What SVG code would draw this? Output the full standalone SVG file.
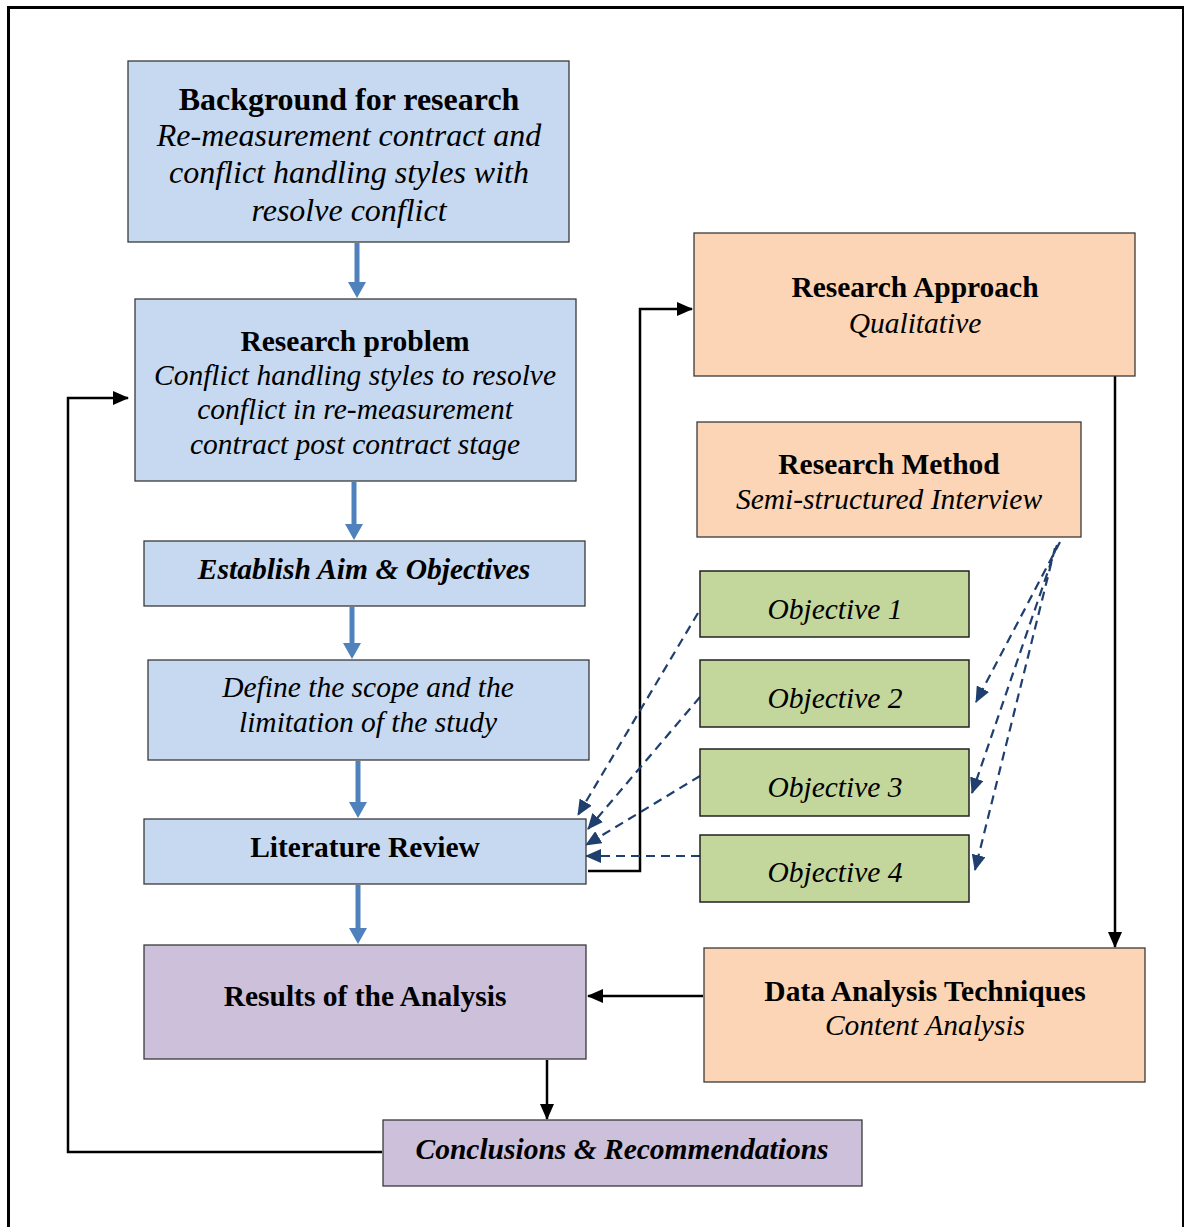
<svg xmlns="http://www.w3.org/2000/svg" width="1184" height="1227" viewBox="0 0 1184 1227">
<style>
text{font-family:"Liberation Serif","Times New Roman",serif;fill:#000;text-anchor:middle;font-size:29.5px}
.b{font-weight:bold}
.i{font-style:italic}
.bi{font-weight:bold;font-style:italic}
.L{font-size:32px}
.blue{fill:#C6D9F1;stroke:#3a3a3a;stroke-width:1.3}
.pur{fill:#CCC0DA;stroke:#3a3a3a;stroke-width:1.3}
.org{fill:#FBD5B5;stroke:#3a3a3a;stroke-width:1.3}
.grn{fill:#C3D69B;stroke:#222;stroke-width:1.5}
.ba{stroke:#4F81BD;stroke-width:5;fill:none}
.k{stroke:#000;stroke-width:2.5;fill:none}
.d{stroke:#1F3F6E;stroke-width:2.2;fill:none;stroke-dasharray:9 6}
</style>
<defs>
<marker id="mk" markerWidth="16" markerHeight="14" refX="15" refY="7" orient="auto" markerUnits="userSpaceOnUse"><path d="M0,0 L16,7 L0,14Z" fill="#000"/></marker>
<marker id="md" markerWidth="16" markerHeight="14" refX="15" refY="7" orient="auto" markerUnits="userSpaceOnUse"><path d="M0,0 L16,7 L0,14Z" fill="#1F3F6E"/></marker>
</defs>
<rect x="8.5" y="7.5" width="1175" height="1240" fill="#fff" stroke="#000" stroke-width="3"/>

<g id="connectors">
<path class="ba" d="M357,243 V284"/><path d="M348,282 L366,282 L357,298Z" fill="#4F81BD"/>
<path class="ba" d="M354,482 V526"/><path d="M345,524 L363,524 L354,540Z" fill="#4F81BD"/>
<path class="ba" d="M352,607 V645"/><path d="M343,643 L361,643 L352,659Z" fill="#4F81BD"/>
<path class="ba" d="M358,761 V804"/><path d="M349,802 L367,802 L358,818Z" fill="#4F81BD"/>
<path class="ba" d="M358,885 V930"/><path d="M349,928 L367,928 L358,944Z" fill="#4F81BD"/>
<path class="k" d="M588,871 H640 V309 H692" marker-end="url(#mk)"/>
<path class="k" d="M1115,376 V947" marker-end="url(#mk)"/>
<path class="k" d="M703,996 H588" marker-end="url(#mk)"/>
<path class="k" d="M547,1060 V1119" marker-end="url(#mk)"/>
<path class="k" d="M382,1152 H68 V398 H128" marker-end="url(#mk)"/>
<path class="d" d="M698,613 L578,815" marker-end="url(#md)"/>
<path class="d" d="M700,697 L588,829" marker-end="url(#md)"/>
<path class="d" d="M700,776 L586,845" marker-end="url(#md)"/>
<path class="d" d="M700,856 L586,856" marker-end="url(#md)"/>
<path class="d" d="M1060,542 L976,702" marker-end="url(#md)"/>
<path class="d" d="M1057,545 L972,793" marker-end="url(#md)"/>
<path class="d" d="M1055,548 L975,870" marker-end="url(#md)"/>
</g>

<g id="background"><rect class="blue" x="128" y="61" width="441" height="181"/>
<text class="b L" x="349" y="110">Background for research</text>
<text class="i L" x="349" y="146">Re-measurement contract and</text>
<text class="i L" x="349" y="183">conflict handling styles with</text>
<text class="i L" x="349" y="221">resolve conflict</text></g>

<g id="problem"><rect class="blue" x="135" y="299" width="441" height="182"/>
<text class="b" x="355" y="351">Research problem</text>
<text class="i" x="355" y="385">Conflict handling styles to resolve</text>
<text class="i" x="355" y="419">conflict in re-measurement</text>
<text class="i" x="355" y="454">contract post contract stage</text></g>

<g id="aim"><rect class="blue" x="144" y="541" width="441" height="65"/>
<text class="bi" x="364" y="579">Establish Aim &amp; Objectives</text></g>

<g id="scope"><rect class="blue" x="148" y="660" width="441" height="100"/>
<text class="i" x="368" y="697">Define the scope and the</text>
<text class="i" x="368" y="732">limitation of the study</text></g>

<g id="literature"><rect class="blue" x="144" y="819" width="442" height="65"/>
<text class="b" x="365" y="857">Literature Review</text></g>

<g id="results"><rect class="pur" x="144" y="945" width="442" height="114"/>
<text class="b" x="365" y="1006">Results of the Analysis</text></g>

<g id="conclusions"><rect class="pur" x="383" y="1120" width="479" height="66"/>
<text class="bi" x="622" y="1159">Conclusions &amp; Recommendations</text></g>

<g id="approach"><rect class="org" x="694" y="233" width="441" height="143"/>
<text class="b" x="915" y="297">Research Approach</text>
<text class="i" x="915" y="333">Qualitative</text></g>

<g id="method"><rect class="org" x="697" y="422" width="384" height="115"/>
<text class="b" x="889" y="474">Research Method</text>
<text class="i" x="889" y="509">Semi-structured Interview</text></g>

<g id="obj1"><rect class="grn" x="700" y="571" width="269" height="66"/>
<text class="i" x="835" y="619">Objective 1</text></g>
<g id="obj2"><rect class="grn" x="700" y="660" width="269" height="67"/>
<text class="i" x="835" y="708">Objective 2</text></g>
<g id="obj3"><rect class="grn" x="700" y="749" width="269" height="67"/>
<text class="i" x="835" y="797">Objective 3</text></g>
<g id="obj4"><rect class="grn" x="700" y="835" width="269" height="67"/>
<text class="i" x="835" y="882">Objective 4</text></g>

<g id="analysis"><rect class="org" x="704" y="948" width="441" height="134"/>
<text class="b" x="925" y="1001">Data Analysis Techniques</text>
<text class="i" x="925" y="1035">Content Analysis</text></g>
</svg>
